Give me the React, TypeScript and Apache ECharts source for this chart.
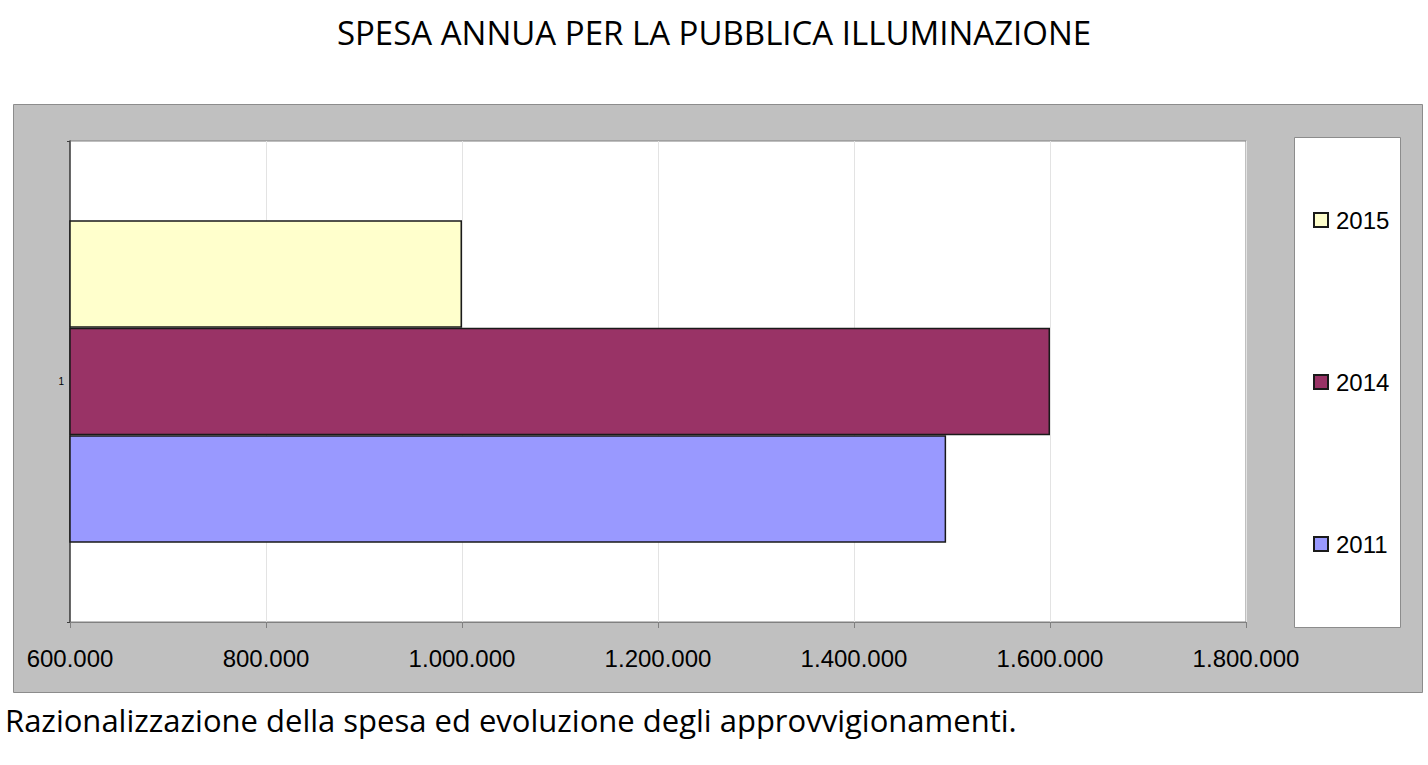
import { useEffect, useRef } from "react";
import * as echarts from "echarts";

const TITLE = "SPESA ANNUA PER LA PUBBLICA ILLUMINAZIONE";
const CAPTION = "Razionalizzazione della spesa ed evoluzione degli approvvigionamenti.";
const CATEGORIES = ["1"];
// top to bottom in the band
const YEARS = ["2015", "2014", "2011"];
const VALUES = [1000000, 1600000, 1494000];
const COLORS = ["#FFFFCC", "#993366", "#9999FF"];

const fmt = (v: number) => String(v).replace(/\B(?=(\d{3})+(?!\d))/g, ".");

export default function App() {
  const ref = useRef<HTMLDivElement>(null);
  useEffect(() => {
    if (!ref.current) return;
    const chart = echarts.init(ref.current, undefined, { renderer: "svg" });
    const option: echarts.EChartsOption = {
      animation: false,
      backgroundColor: "#ffffff",
      title: {
        text: TITLE,
        left: "center",
        top: 11,
        textStyle: { fontFamily: "Open Sans", fontSize: 33, fontWeight: "normal", color: "#000" },
      },
      graphic: [
        {
          type: "rect",
          z: -10,
          shape: { x: 13.5, y: 104.5, width: 1409, height: 588 },
          style: { fill: "#C0C0C0", stroke: "#8C8C8C", lineWidth: 1 },
        },
        {
          type: "rect",
          z: -5,
          shape: { x: 1294.5, y: 137.5, width: 106, height: 490 },
          style: { fill: "#ffffff", stroke: "#8C8C8C", lineWidth: 1 },
        },
        {
          type: "text",
          left: 5,
          top: 704,
          style: { text: CAPTION, font: "31px 'Open Sans'", fill: "#000" },
        },
      ],
      legend: {
        orient: "vertical",
        left: 1308,
        top: 203,
        itemGap: 138,
        itemWidth: 14,
        itemHeight: 14,
        icon: "rect",
        data: YEARS,
        textStyle: { fontFamily: "Liberation Sans", fontSize: 24, color: "#000", padding: [0, 0, 0, 3] },
      },
      grid: {
        left: 70,
        top: 141,
        width: 1176,
        height: 481,
        show: true,
        backgroundColor: "#ffffff",
        borderColor: "#808080",
        borderWidth: 1,
      },
      xAxis: {
        type: "value",
        min: 600000,
        max: 1800000,
        interval: 200000,
        axisLine: { show: true, lineStyle: { color: "#808080" } },
        axisTick: { show: true, length: 6, lineStyle: { color: "#808080" } },
        splitLine: { show: true, lineStyle: { color: "#E3E3E3" } },
        axisLabel: {
          formatter: (v: number) => fmt(v),
          fontFamily: "Liberation Sans",
          fontSize: 24,
          color: "#000",
          margin: 24,
        },
      },
      yAxis: {
        type: "category",
        data: CATEGORIES,
        inverse: true,
        axisLine: { show: true, lineStyle: { color: "#404040", width: 1.5 } },
        axisTick: { show: true, length: 3, lineStyle: { color: "#404040" } },
        axisLabel: { fontFamily: "Liberation Sans", fontSize: 10, color: "#000", margin: 6 },
      },
      series: YEARS.map((y, i) => ({
        name: y,
        type: "bar" as const,
        data: [VALUES[i]],
        barGap: "0%",
        barCategoryGap: "33%",
        itemStyle: { color: COLORS[i], borderColor: "#1a1a1a", borderWidth: 1.5 },
      })),
    };
    chart.setOption(option);
    return () => chart.dispose();
  }, []);
  return <div ref={ref} style={{ position: "fixed", left: 0, top: 0, width: 1428, height: 765 }} />;
}
